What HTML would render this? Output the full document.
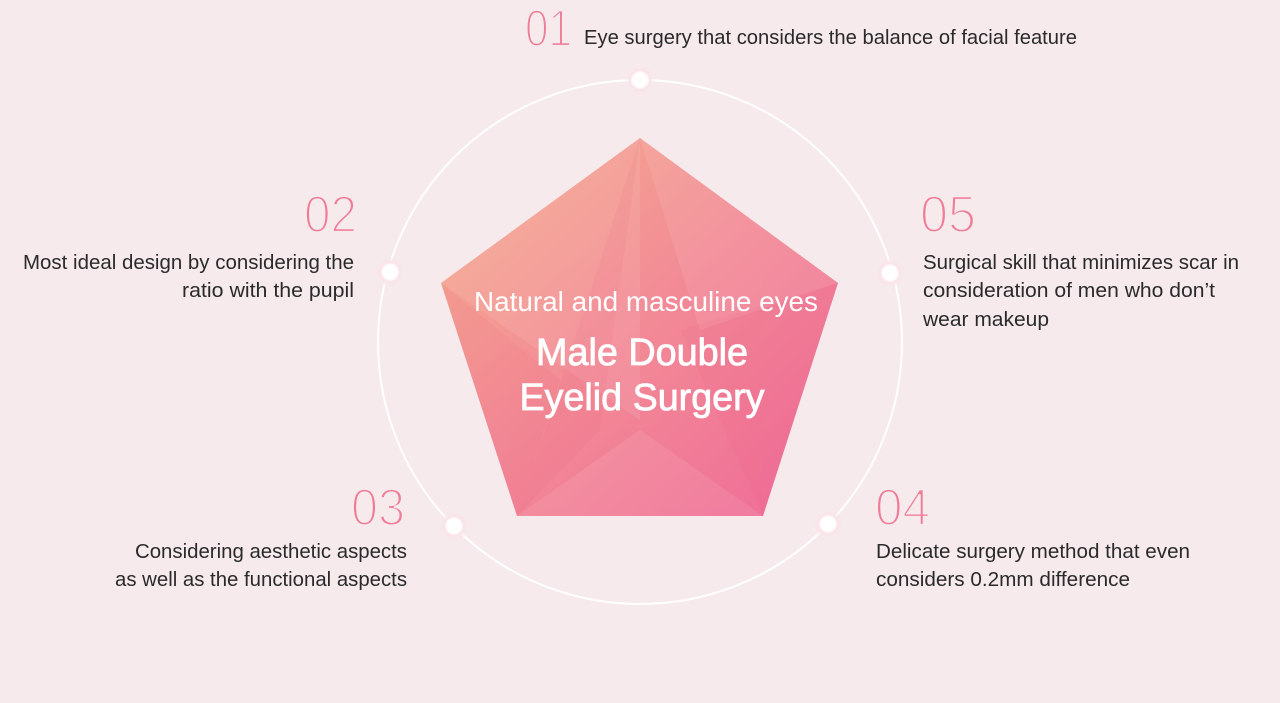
<!DOCTYPE html>
<html><head><meta charset="utf-8"><style>
html,body{margin:0;padding:0;background:#f6eaec;}
svg{display:block}
text{font-family:"Liberation Sans",sans-serif;}
.n{fill:#f07c98;font-size:52px;font-weight:normal;stroke:#f6eaec;stroke-width:2.2px;paint-order:stroke;}
.n{paint-order:normal;}
.t{fill:#2a2a2a;font-size:20px;}
.w{fill:#fff;}
</style></head><body>
<svg width="1280" height="703" viewBox="0 0 1280 703">
<defs>
<linearGradient id="g" x1="0" y1="0" x2="1" y2="1">
<stop offset="0" stop-color="#f6b08e"/>
<stop offset="0.5" stop-color="#f28a96"/>
<stop offset="1" stop-color="#ef6a98"/>
</linearGradient>
<radialGradient id="d"><stop offset="0.45" stop-color="#fff"/><stop offset="0.6" stop-color="#fbe3e8"/><stop offset="1" stop-color="#f6eaec" stop-opacity="0"/></radialGradient>
</defs>
<rect width="1280" height="703" fill="#f6eaec"/>
<circle cx="640" cy="342" r="262" fill="none" stroke="#fff" stroke-width="2"/>
<polygon points="640,138 838,283 763,516 517,516 441,283" fill="url(#g)"/>
<g fill="#fff" opacity="0.08">
<polygon points="640,138 441,283 640,420"/>
<polygon points="640,138 838,283 700,330"/>
<polygon points="517,516 763,516 640,430"/>
</g>
<g fill="#e8507a" opacity="0.08">
<polygon points="640,138 600,430 517,516"/>
<polygon points="838,283 763,516 680,330"/>
<polygon points="441,283 517,516 560,380"/>
</g>
<g fill="url(#d)">
<circle cx="640" cy="80" r="16"/>
<circle cx="390" cy="272" r="16"/>
<circle cx="454" cy="526" r="16"/>
<circle cx="828" cy="524" r="16"/>
<circle cx="890" cy="273" r="16"/>
</g>
<text class="w" x="646" y="311" text-anchor="middle" font-size="28" textLength="344" lengthAdjust="spacingAndGlyphs">Natural and masculine eyes</text>
<g stroke="#fff" stroke-width="0.8">
<text class="w" x="642" y="365" text-anchor="middle" font-size="38" textLength="212" lengthAdjust="spacingAndGlyphs">Male Double</text>
<text class="w" x="642" y="410" text-anchor="middle" font-size="38" textLength="245" lengthAdjust="spacingAndGlyphs">Eyelid Surgery</text>
</g>

<text class="n" x="525" y="46" textLength="47" lengthAdjust="spacingAndGlyphs">01</text>
<text class="t" x="584" y="44" textLength="493" lengthAdjust="spacingAndGlyphs">Eye surgery that considers the balance of facial feature</text>

<text class="n" x="304" y="232" textLength="53" lengthAdjust="spacingAndGlyphs">02</text>
<text class="t" x="354" y="269" text-anchor="end" textLength="331" lengthAdjust="spacingAndGlyphs">Most ideal design by considering the</text>
<text class="t" x="354" y="297" text-anchor="end" textLength="172" lengthAdjust="spacingAndGlyphs">ratio with the pupil</text>

<text class="n" x="351" y="525" textLength="54" lengthAdjust="spacingAndGlyphs">03</text>
<text class="t" x="407" y="558" text-anchor="end" textLength="272" lengthAdjust="spacingAndGlyphs">Considering aesthetic aspects</text>
<text class="t" x="407" y="586" text-anchor="end" textLength="292" lengthAdjust="spacingAndGlyphs">as well as the functional aspects</text>

<text class="n" x="875" y="525" textLength="55" lengthAdjust="spacingAndGlyphs">04</text>
<text class="t" x="876" y="558" textLength="314" lengthAdjust="spacingAndGlyphs">Delicate surgery method that even</text>
<text class="t" x="876" y="586" textLength="254" lengthAdjust="spacingAndGlyphs">considers 0.2mm difference</text>

<text class="n" x="920" y="232" textLength="56" lengthAdjust="spacingAndGlyphs">05</text>
<text class="t" x="923" y="269" textLength="316" lengthAdjust="spacingAndGlyphs">Surgical skill that minimizes scar in</text>
<text class="t" x="923" y="297" textLength="292" lengthAdjust="spacingAndGlyphs">consideration of men who don’t</text>
<text class="t" x="923" y="326" textLength="126" lengthAdjust="spacingAndGlyphs">wear makeup</text>
</svg>
</body></html>
